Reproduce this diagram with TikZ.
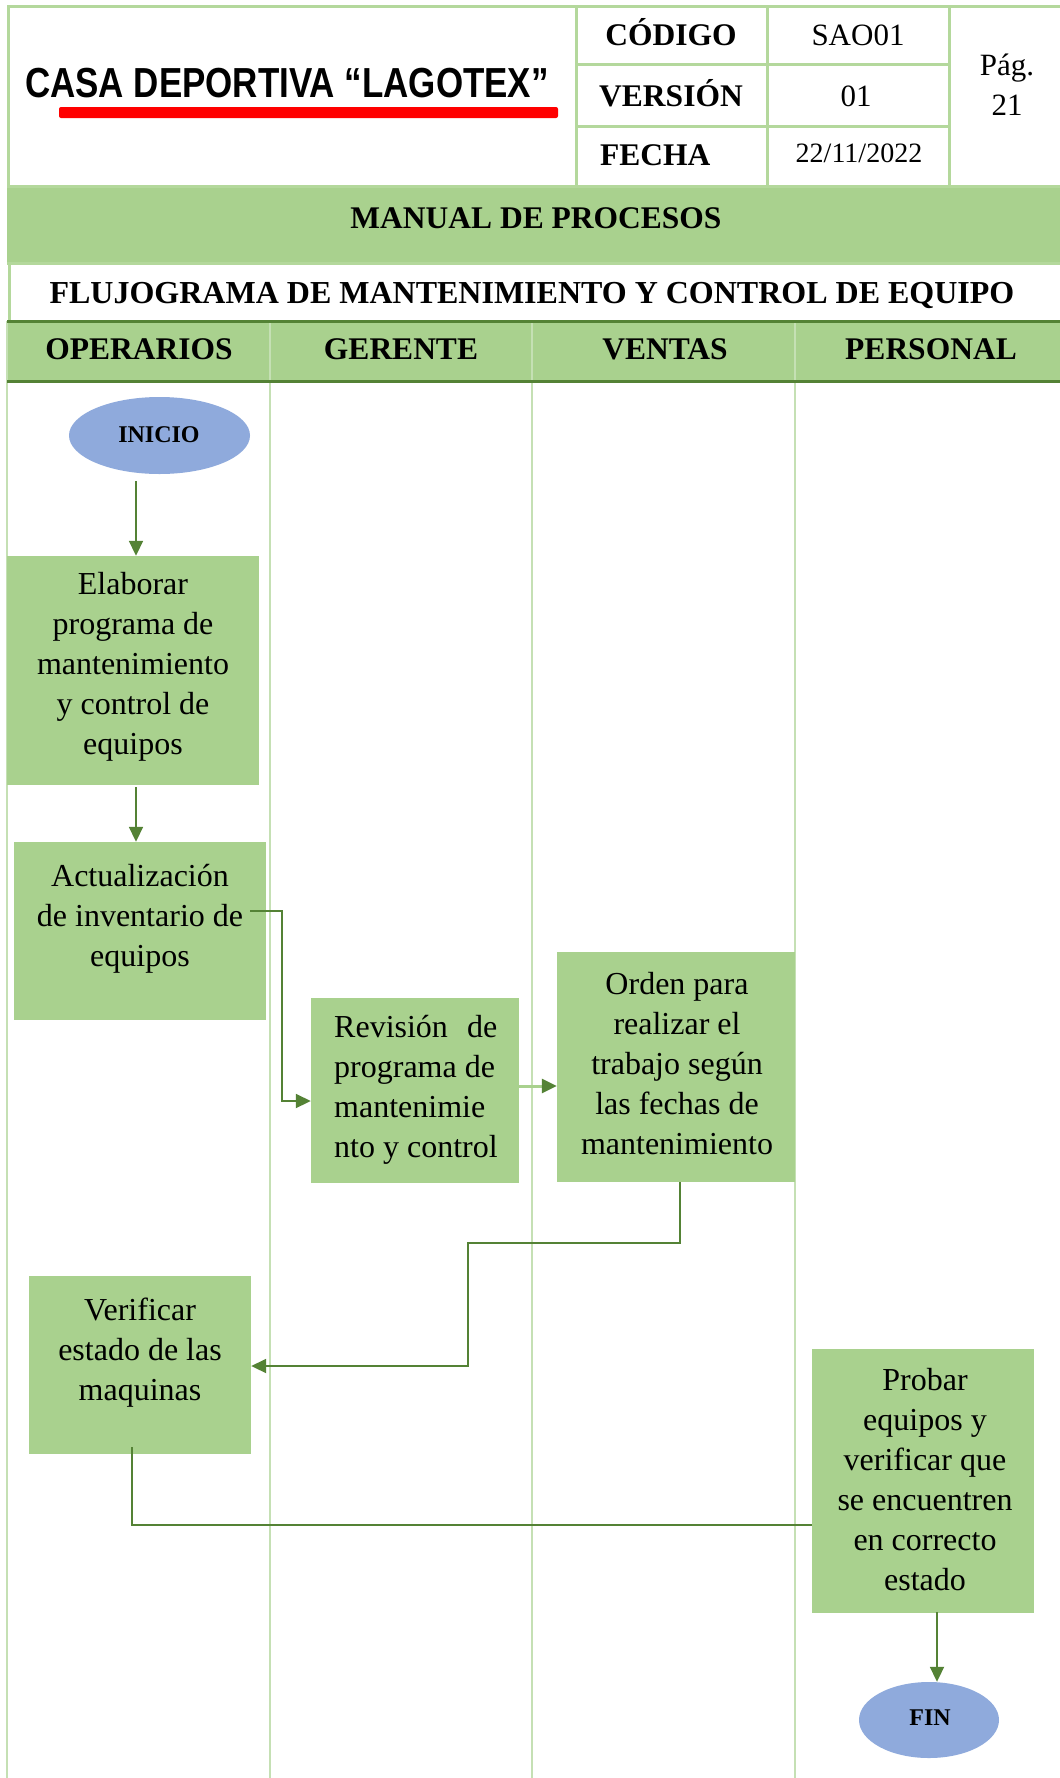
\documentclass[tikz,border=0pt]{standalone}
\usepackage{fontspec}
\setmainfont{Liberation Serif}
\newfontfamily\titlefont{Liberation Sans}
\usetikzlibrary{shapes.geometric,arrows.meta}
\definecolor{boxgreen}{HTML}{A9D18E}
\definecolor{darkgreen}{HTML}{548235}
\definecolor{lanegreen}{HTML}{C5E0B4}
\definecolor{hdrline}{HTML}{B4D89C}
\definecolor{ovalblue}{HTML}{8FAADC}
\begin{document}
\begin{tikzpicture}[x=1pt,y=-1pt,
  hline/.style={draw=hdrline, line width=3pt},
  laneline/.style={draw=lanegreen, line width=1.5pt},
  hdrbold/.style={anchor=base, inner sep=0pt, font=\fontsize{31.5}{38}\selectfont\bfseries},
  hdrreg/.style={anchor=base, inner sep=0pt, font=\fontsize{31}{38}\selectfont},
  procbox/.style={fill=boxgreen, draw=none, inner sep=0pt},
  proctext/.style={inner sep=0pt, align=center, font=\fontsize{32}{40}\selectfont},
  oval/.style={ellipse, fill=ovalblue, draw=none, inner sep=0pt},
  ovaltext/.style={anchor=base, inner sep=0pt, font=\fontsize{24}{28}\selectfont\bfseries},
  arr/.style={draw=darkgreen, line width=1.8pt, -{Triangle[length=15pt,width=14pt]}},
  plainline/.style={draw=darkgreen, line width=1.8pt}
]
\useasboundingbox (0,0) rectangle (1060,1778);
\fill[white] (0,0) rectangle (1060,1778);

% ---------- header ----------
\fill[boxgreen] (7,186) rectangle (1060,263);
\draw[hline] (7,6) -- (1060,6);
\draw[hline] (8,6) -- (8,186);
\draw[hline] (576,6) -- (576,186);
\draw[hline] (767,6) -- (767,186);
\draw[hline] (949,6) -- (949,186);
\draw[hline] (576,64) -- (949,64);
\draw[hline] (576,126) -- (949,126);
\draw[hline] (7,186) -- (1060,186);
\draw[hline] (7,263) -- (1060,263);
\draw[hline] (9,263) -- (9,321);

\node[anchor=base, inner sep=0pt] (title) at (287,97)
  {\scalebox{0.832}[1]{\titlefont\fontsize{42}{48}\selectfont\bfseries CASA DEPORTIVA “LAGOTEX”}};
\fill[red, rounded corners=2pt] (59,107) rectangle (558,118);

\node[hdrbold] (cod) at (671,45) {CÓDIGO};
\node[hdrreg] (codv) at (858,45) {SAO01};
\node[hdrbold] (ver) at (671,106) {VERSIÓN};
\node[hdrreg] (verv) at (856,106) {01};
\node[hdrbold, anchor=base west] (fec) at (600,165) {FECHA};
\node[hdrreg, font=\fontsize{28}{34}\selectfont] (fecv) at (859,162) {22/11/2022};
\node[hdrreg] (pag) at (1007,75) {Pág.};
\node[hdrreg] (pagn) at (1007,115) {21};

\node[hdrbold] (manual) at (536,228) {MANUAL DE PROCESOS};
\node[hdrbold, font=\fontsize{32}{38}\selectfont\bfseries] (fluj) at (532,303) {FLUJOGRAMA DE MANTENIMIENTO Y CONTROL DE EQUIPO};

% ---------- lanes ----------
\fill[boxgreen] (7,321) rectangle (1060,381);
\foreach \xx in {7,270,532,795} {
  \draw[laneline] (\xx,321) -- (\xx,1778);
}
\draw[draw=darkgreen, line width=3pt] (7,321) -- (1060,321);
\draw[draw=darkgreen, line width=3pt] (7,381) -- (1060,381);

\node[hdrbold] (l1) at (139,359) {OPERARIOS};
\node[hdrbold] (l2) at (401,359) {GERENTE};
\node[hdrbold] (l3) at (665,359) {VENTAS};
\node[hdrbold] (l4) at (931,359) {PERSONAL};

% ---------- flow ----------
\node[oval, minimum width=181pt, minimum height=77pt] (inicio) at (159.5,435.5) {};
\node[ovaltext] (inicioT) at (159,442) {INICIO};

\node[procbox, minimum width=252pt, minimum height=229pt] (elab) at (133,670.5) {};
\node[proctext] (elabT) at (133,667) {Elaborar\\programa de\\mantenimiento\\y control de\\equipos};

\node[procbox, minimum width=252pt, minimum height=178pt] (act) at (140,931) {};
\node[proctext] (actT) at (140,919) {Actualización\\de inventario de\\equipos};

\node[procbox, minimum width=208pt, minimum height=185pt] (rev) at (415,1090.5) {};
\node[proctext, align=left, anchor=west] (revT) at (334,1090)
  {\makebox[163pt][s]{Revisión\ de}\\programa de\\mantenimie\\nto y control};

\node[procbox, minimum width=238pt, minimum height=230pt] (ord) at (676,1067) {};
\node[proctext] (ordT) at (677,1064) {Orden para\\realizar el\\trabajo según\\las fechas de\\mantenimiento};

\node[procbox, minimum width=222pt, minimum height=178pt] (verif) at (140,1365) {};
\node[proctext] (verifT) at (140,1353) {Verificar\\estado de las\\maquinas};

\node[procbox, minimum width=222pt, minimum height=264pt] (prob) at (923,1481) {};
\node[proctext] (probT) at (925,1479.5) {Probar\\equipos y\\verificar que\\se encuentren\\en correcto\\estado};

\node[oval, minimum width=140pt, minimum height=76pt] (fin) at (929,1720) {};
\node[ovaltext] (finT) at (930,1725) {FIN};

% ---------- connectors ----------
\coordinate (c1) at (136,481);
\draw[arr] (c1) -- (c1 |- elab.north);
\coordinate (c2) at (136,787);
\draw[arr] (c2) -- (c2 |- act.north);
\coordinate (c3) at (250,911);
\coordinate (c3b) at (282,1101);
\draw[arr] (c3) -| (c3b) -- (c3b -| rev.west);
\coordinate (c4) at (519,1086);
\draw[draw=boxgreen, line width=3pt, -{Triangle[length=15pt,width=14pt,fill=darkgreen,color=darkgreen]}] (c4) -- (c4 -| ord.west);
\coordinate (c5) at (680,1182);
\coordinate (c5b) at (468,1243);
\coordinate (c5c) at (468,1366);
\draw[arr] (c5) |- (c5b) -- (c5c) -- (c5c -| verif.east);
\coordinate (c6) at (132,1447);
\coordinate (c6b) at (132,1525);
\draw[plainline] (c6) -- (c6b) -- (c6b -| prob.west);
\coordinate (c7) at (937,1612);
\draw[arr] (c7) -- (c7 |- fin.north);
\end{tikzpicture}
\end{document}
